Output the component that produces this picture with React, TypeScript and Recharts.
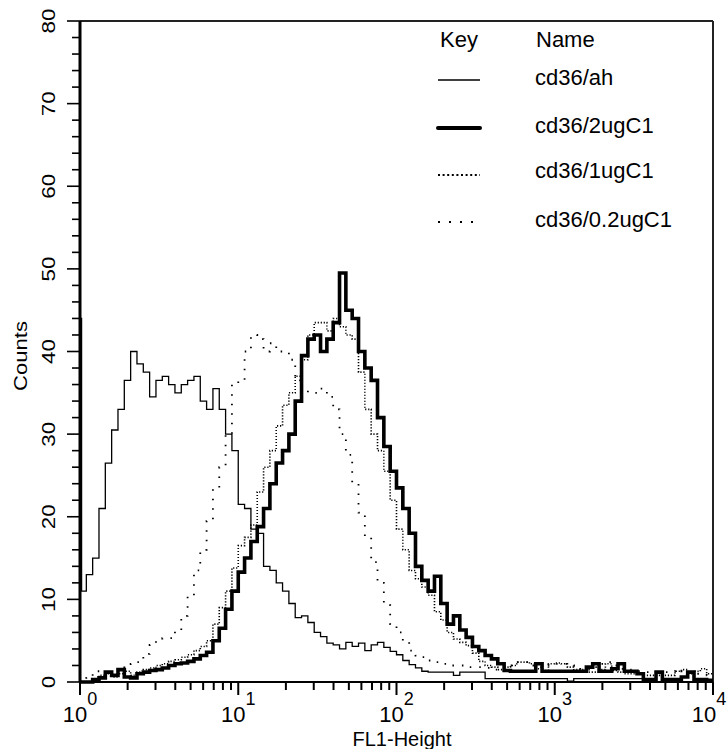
import { Label, Legend, Line, LineChart, ReferenceLine, XAxis, YAxis } from 'recharts'

// histogram bins: 25 per decade over 10^0..10^4 (log channels)
const BINS_PER_DECADE = 25
// off-scale-low pile-up in the very first channel of cd36/ah
const AH_FIRST_CHANNEL = 44
const FIRST_CHANNEL_WIDTH = 0.01 // decades

const ah = [
  11, 13, 15, 21, 26.5, 30.5, 33, 36.5, 40, 38.5,
  37.5, 34.5, 36.5, 37, 36, 35, 36, 36.5, 37, 34,
  33, 35.5, 33, 30, 28, 21.5, 21, 18.5, 18, 14,
  13.5, 12, 11, 9.5, 7.8, 8, 7.2, 6, 5.5, 4.7,
  4.5, 4, 4.8, 4.3, 4.7, 3.8, 4.5, 4.8, 4.2, 3.7,
  3.3, 2.6, 2.1, 1.7, 1.3, 1.2, 1.2, 1.2, 1.2, 0.8,
  1.2, 1.2, 1.2, 1.2, 0.4, 0.4, 0.4, 0.4, 0.4, 0.4,
  0.4, 0.4, 0.4, 0.4, 0.4, 0.4, 0.4, 0.1, 0.4, 0.4,
  0.4, 0.4, 0.4, 0.4, 0.4, 0.4, 0.4, 0.4, 0.4, 0,
  0, 0, 0, 0, 0, 0, 0, 0, 0, 0,
]
const ug2 = [
  0, 0, 0.3, 0.5, 1.2, 0.8, 1.5, 0.6, 0.5, 1,
  1.2, 1.4, 1.5, 1.7, 2, 2.2, 2.3, 2.5, 2.8, 3.2,
  3.6, 5, 6.5, 8.8, 11, 13.3, 15, 17, 18.8, 21,
  24, 26.5, 28, 30, 34, 39.5, 41.5, 42, 40, 41.5,
  43.5, 49.5, 45, 44, 40, 38, 36.5, 32, 28.5, 25.5,
  23.5, 21, 18, 14, 12.3, 11, 12.8, 9.5, 7, 8,
  6.3, 5.4, 4.3, 3.8, 3.2, 2.8, 2.2, 1.4, 1.3, 1.3,
  1.3, 1.3, 2.2, 1.3, 1.3, 1.3, 1.3, 1.3, 1.3, 1.3,
  1.8, 2.2, 1.3, 1.3, 1.6, 2.2, 1.3, 1.3, 1, 0.3,
  0.3, 1.2, 0.3, 0.3, 0.3, 0.6, 1.2, 0.3, 0.3, 0.2,
]
const ug1 = [
  0, 0, 0.3, 0.8, 1, 0.6, 1, 1.3, 0.8, 1.2,
  1.5, 1.7, 2, 2.2, 2.5, 2.7, 3, 3.3, 3.8, 4.3,
  5, 7, 9, 11, 13.8, 16.5, 17.5, 19, 23, 26,
  28, 31, 33.5, 35, 37, 39, 42, 43.5, 43.5, 42.5,
  44, 43, 42, 41.5, 37.5, 33, 30, 28, 25.5, 22,
  18.5, 16, 13.5, 12.5, 11.5, 10.5, 8.5, 7.5, 6, 5.2,
  4.8, 4.4, 3.5, 2.5, 2, 1.8, 1.5, 1.8, 2, 2.4,
  2.4, 2.2, 1.6, 1.4, 2.2, 2.3, 2.2, 1.8, 1.5, 1.5,
  1.2, 1.2, 1.5, 2.2, 1.4, 1.2, 1, 1, 1, 0.8,
  0.8, 0.8, 0.8, 0.8, 1.3, 1.5, 1, 1.3, 1.6, 1,
]
const ug02 = [
  0, 0.5, 1.3, 1.3, 0.8, 1.2, 1.6, 2, 2.2, 2.4,
  3.4, 4.5, 5, 5.3, 5.3, 6.2, 8, 10.5, 13.5, 16,
  19.5, 23.5, 26, 30, 36, 36.5, 40, 42, 41.5, 40,
  41, 40, 40, 39, 36.5, 35.5, 35, 35, 35.5, 34.5,
  33, 30, 27.5, 24, 20.5, 17.5, 14.5, 12, 9.3, 7,
  6, 5, 3.8, 3.2, 3, 2.6, 2.4, 2.2, 2, 2,
  2, 1.8, 1.8, 1.8, 1.7, 1.5, 1.5, 1.8, 2, 2.4,
  2.4, 2, 1.8, 2, 2.2, 2.2, 2.2, 2.2, 2, 1.6,
  1.5, 1.8, 2.2, 2.4, 2, 1.6, 1.5, 1.3, 1.3, 1.2,
  1.2, 1.2, 1.2, 1.3, 1.5, 1.3, 1.2, 1, 1, 0.8,
]

const series = [
  { key: 'ug02', name: 'cd36/0.2ugC1', width: 1.8, dash: '1.5 8', keyDash: '2 9' },
  { key: 'ug1', name: 'cd36/1ugC1', width: 1.6, dash: '1.2 1.8', keyDash: '2 2.6' },
  { key: 'ah', name: 'cd36/ah', width: 1.3, dash: undefined, keyDash: undefined },
  { key: 'ug2', name: 'cd36/2ugC1', width: 3.6, dash: undefined, keyDash: undefined },
]
const keyOrder = ['ah', 'ug2', 'ug1', 'ug02']

const xDecades = [1, 10, 100, 1000, 10000]
const xExponents = ['0', '1', '2', '3', '4']
const xMinorSteps = [2, 3, 4, 5, 6, 7, 8, 9]
const yMax = 80
const yLabelStep = 10
const yMinorStep = 2
const yLabels = [0, 10, 20, 30, 40, 50, 60, 70, 80]

const last = ah.length - 1
const rows = [
  { x: 1, ah: AH_FIRST_CHANNEL, ug2: ug2[0], ug1: ug1[0], ug02: ug02[0] },
  ...ah.map((v, i) => ({
    x: 10 ** (i === 0 ? FIRST_CHANNEL_WIDTH : i / BINS_PER_DECADE),
    ah: v, ug2: ug2[i], ug1: ug1[i], ug02: ug02[i],
  })),
  { x: 10000, ah: ah[last], ug2: ug2[last], ug1: ug1[last], ug02: ug02[last] },
]

const xTicks = [...xDecades, ...xDecades.slice(0, -1).flatMap((d) => xMinorSteps.map((m) => m * d))]
const yTicks = Array.from({ length: yMax / yMinorStep + 1 }, (_, i) => i * yMinorStep)

const FONT = '"Liberation Sans", Arial, Helvetica, sans-serif'

function renderXTick({ x, y, payload }: any) {
  const idx = xDecades.indexOf(payload.value)
  const major = idx >= 0
  const shift = idx === xDecades.length - 1 ? -4 : 0
  return (
    <g>
      <line x1={x} x2={x} y1={y} y2={y + (major ? 13 : 8)} stroke="#000" strokeWidth={2} />
      {major && (
        <text x={x + shift} y={y + 40} textAnchor="middle" fontSize={22} fill="#000" fontFamily={FONT}>
          10<tspan fontSize={18} dy={-17}>{xExponents[idx]}</tspan>
        </text>
      )}
    </g>
  )
}

function renderYTick({ x, y, payload }: any) {
  const major = payload.value % yLabelStep === 0
  return <line x1={x - (major ? 13 : 8)} x2={x} y1={y} y2={y} stroke="#000" strokeWidth={1.6} />
}

// rotated (bottom-to-top) count labels and axis title, placed in the y axis box
function YLabels({ viewBox }: any) {
  const vb = viewBox ?? { x: 0, y: 21, width: 80, height: 661 }
  const right = vb.x + vb.width
  const pos = (v: number) => vb.y + vb.height * (1 - v / yMax)
  return (
    <g fontFamily={FONT} fill="#000">
      {yLabels.map((v) => {
        const cx = right - 31
        const cy = pos(v)
        const s = String(v)
        return (
          <text key={v} x={cx} y={cy} transform={`rotate(-90 ${cx} ${cy})`} textAnchor="middle" dy="0.36em"
            fontSize={18} textLength={s.length * 12.5} lengthAdjust="spacingAndGlyphs">{s}</text>
        )
      })}
      <text x={21} y={356} transform="rotate(-90 21 356)" textAnchor="middle" dy="0.36em"
        fontSize={18} textLength={70} lengthAdjust="spacingAndGlyphs">Counts</text>
    </g>
  )
}

function KeyBox() {
  const rowY = [60, 108, 155, 202]
  return (
    <svg width={300} height={230} style={{ display: 'block', fontFamily: FONT }}>
      <text x={20} y={27} fontSize={22}>Key</text>
      <text x={116} y={27} fontSize={22}>Name</text>
      {keyOrder.map((k, i) => {
        const s = series.find((d) => d.key === k)!
        return (
          <g key={k}>
            <line x1={18} x2={60} y1={rowY[i]} y2={rowY[i]} stroke="#000"
              strokeWidth={k === 'ug2' ? 4 : k === 'ah' ? 1.5 : 2} strokeDasharray={s.keyDash}
              strokeLinecap={k === 'ug2' ? 'round' : 'butt'} />
            <text x={115} y={rowY[i] + 5 - (i === 2 ? 2 : 0)} fontSize={22}>{s.name}</text>
          </g>
        )
      })}
    </svg>
  )
}

export default function App() {
  return (
    <div style={{ position: 'absolute', left: 0, top: 0, width: 728, height: 749, background: '#fff', fontFamily: FONT }}>
      <LineChart width={728} height={749} data={rows} margin={{ top: 21, right: 15, bottom: 0, left: 0 }}>
        <XAxis dataKey="x" type="number" scale="log" domain={[1, 10000]} allowDataOverflow ticks={xTicks}
          interval={0} tick={renderXTick} tickLine={false} tickSize={0} tickMargin={0} height={67}
          axisLine={{ stroke: '#000', strokeWidth: 2 }}>
          <Label content={() => (
            <text x={402} y={746} textAnchor="middle" fontSize={20} fill="#000" fontFamily={FONT}>FL1-Height</text>
          )} />
        </XAxis>
        <YAxis type="number" domain={[0, yMax]} ticks={yTicks} interval={0} tick={renderYTick} tickLine={false}
          tickSize={0} tickMargin={0} width={80} axisLine={{ stroke: '#000', strokeWidth: 3 }}>
          <Label content={(p: any) => <YLabels viewBox={p.viewBox} />} />
        </YAxis>
        <ReferenceLine y={yMax} stroke="#222" strokeWidth={2} />
        <ReferenceLine x={10000} stroke="#222" strokeWidth={2} />
        {series.map((s) => (
          <Line key={s.key} dataKey={s.key} name={s.name} type="stepAfter" stroke="#000" strokeWidth={s.width}
            strokeDasharray={s.dash} dot={false} activeDot={false} isAnimationActive={false} />
        ))}
        <Legend layout="vertical" align="center" verticalAlign="middle" content={() => <KeyBox />}
          wrapperStyle={{ position: 'absolute', left: 420, top: 20, width: 300, height: 230 }} />
      </LineChart>
    </div>
  )
}
